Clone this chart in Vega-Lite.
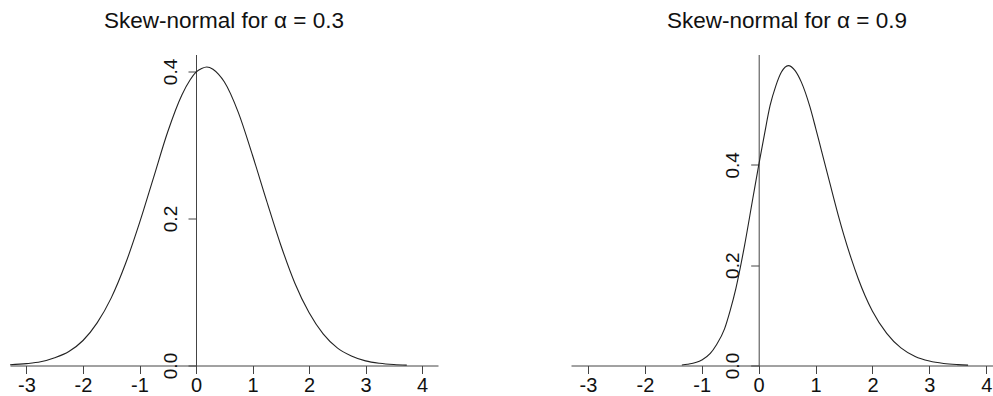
{
  "$schema": "https://vega.github.io/schema/vega-lite/v6.json",
  "padding": {"left": 7, "top": 9.5, "right": 0, "bottom": 0},
  "background": "white",
  "spacing": 133,
  "bounds": "flush",
  "config": {
    "view": {"stroke": null},
    "font": "Liberation Sans",
    "axis": {
      "grid": false,
      "domainColor": "#444",
      "tickColor": "#444",
      "labelColor": "#111",
      "labelFont": "Liberation Sans",
      "title": null,
      "tickSize": 8,
      "labelFlush": false,
      "labelOverlap": false
    },
    "title": {"font": "Liberation Sans", "fontSize": 22.5, "fontWeight": "normal", "color": "#111", "baseline": "alphabetic", "offset": 22, "anchor": "middle"}
  },
  "datasets": {
    "a03": [
      {"x": -3.29, "y": 0.001}, {"x": -3.0, "y": 0.0025}, {"x": -2.75, "y": 0.005}, {"x": -2.5, "y": 0.0105},
      {"x": -2.25, "y": 0.019}, {"x": -2.0, "y": 0.034}, {"x": -1.75, "y": 0.058}, {"x": -1.5, "y": 0.092},
      {"x": -1.25, "y": 0.138}, {"x": -1.0, "y": 0.194}, {"x": -0.75, "y": 0.256}, {"x": -0.5, "y": 0.318},
      {"x": -0.25, "y": 0.368}, {"x": -0.1, "y": 0.389}, {"x": 0.0, "y": 0.399}, {"x": 0.1, "y": 0.404},
      {"x": 0.19, "y": 0.406}, {"x": 0.3, "y": 0.403}, {"x": 0.4, "y": 0.396}, {"x": 0.5, "y": 0.386},
      {"x": 0.75, "y": 0.344}, {"x": 1.0, "y": 0.286}, {"x": 1.25, "y": 0.224}, {"x": 1.5, "y": 0.164},
      {"x": 1.75, "y": 0.112}, {"x": 2.0, "y": 0.072}, {"x": 2.25, "y": 0.043}, {"x": 2.5, "y": 0.024},
      {"x": 2.75, "y": 0.013}, {"x": 3.0, "y": 0.0063}, {"x": 3.25, "y": 0.003}, {"x": 3.5, "y": 0.0013},
      {"x": 3.73, "y": 0.0005}
    ],
    "a09": [
      {"x": -1.35, "y": 0.001}, {"x": -1.25, "y": 0.0025}, {"x": -1.0, "y": 0.011}, {"x": -0.85, "y": 0.024},
      {"x": -0.75, "y": 0.04}, {"x": -0.6, "y": 0.073}, {"x": -0.5, "y": 0.11}, {"x": -0.4, "y": 0.154},
      {"x": -0.25, "y": 0.238}, {"x": -0.1, "y": 0.335}, {"x": 0.0, "y": 0.399}, {"x": 0.1, "y": 0.46},
      {"x": 0.2, "y": 0.518}, {"x": 0.3, "y": 0.557}, {"x": 0.4, "y": 0.585}, {"x": 0.52, "y": 0.598},
      {"x": 0.64, "y": 0.588}, {"x": 0.75, "y": 0.565}, {"x": 0.9, "y": 0.516}, {"x": 1.0, "y": 0.474},
      {"x": 1.1, "y": 0.43}, {"x": 1.25, "y": 0.364}, {"x": 1.4, "y": 0.299}, {"x": 1.5, "y": 0.259},
      {"x": 1.63, "y": 0.212}, {"x": 1.75, "y": 0.173}, {"x": 1.87, "y": 0.139}, {"x": 2.0, "y": 0.108},
      {"x": 2.25, "y": 0.064}, {"x": 2.5, "y": 0.035}, {"x": 2.75, "y": 0.018}, {"x": 3.0, "y": 0.0089},
      {"x": 3.25, "y": 0.0041}, {"x": 3.5, "y": 0.0018}, {"x": 3.68, "y": 0.0008}
    ]
  },
  "hconcat": [
    {
      "width": 428,
      "height": 311,
      "title": {"text": "Skew-normal for α = 0.3"},
      "data": {"name": "a03"},
      "mark": {"type": "line", "interpolate": "monotone", "color": "#222", "strokeWidth": 1.1},
      "encoding": {
        "x": {
          "field": "x", "type": "quantitative",
          "scale": {"domain": [-3.292, 4.283], "nice": false, "zero": false},
          "axis": {"values": [-3, -2, -1, 0, 1, 2, 3, 4], "labelFontSize": 20, "labelPadding": 2, "labelExpr": "'' + datum.value"}
        },
        "y": {
          "field": "y", "type": "quantitative",
          "scale": {"domain": [0, 0.4231], "nice": false},
          "axis": {"values": [0, 0.2, 0.4], "format": ".1f", "offset": -186, "labelFontSize": 19, "labelAngle": -90, "labelAlign": "center", "labelBaseline": "bottom", "labelPadding": 8}
        }
      }
    },
    {
      "width": 422,
      "height": 311,
      "title": {"text": "Skew-normal for α = 0.9", "dx": 5},
      "data": {"name": "a09"},
      "mark": {"type": "line", "interpolate": "monotone", "color": "#222", "strokeWidth": 1.1},
      "encoding": {
        "x": {
          "field": "x", "type": "quantitative",
          "scale": {"domain": [-3.298, 4.118], "nice": false, "zero": false},
          "axis": {"values": [-3, -2, -1, 0, 1, 2, 3, 4], "labelFontSize": 20, "labelPadding": 2, "labelExpr": "'' + datum.value"}
        },
        "y": {
          "field": "y", "type": "quantitative",
          "scale": {"domain": [0, 0.6201], "nice": false},
          "axis": {"values": [0, 0.2, 0.4], "format": ".1f", "offset": -187.7, "labelFontSize": 19, "labelAngle": -90, "labelAlign": "center", "labelBaseline": "bottom", "labelPadding": 8}
        }
      }
    }
  ]
}
